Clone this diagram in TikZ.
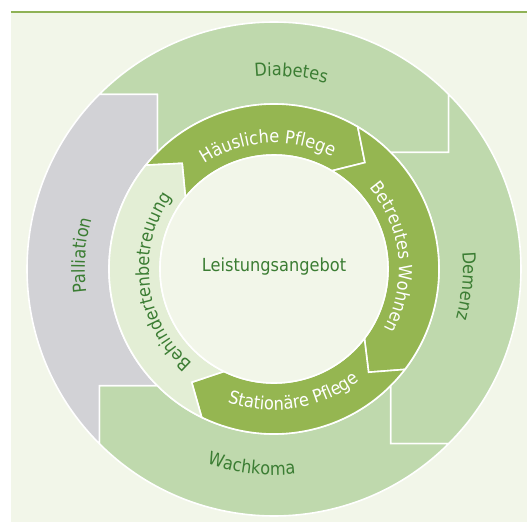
\documentclass[tikz,border=0pt]{standalone}
\usepackage{fontspec}
\setmainfont{DejaVu Sans}[FakeStretch=0.9]
\usetikzlibrary{decorations.text}

\definecolor{panel}{HTML}{F2F6E9}
\definecolor{topline}{HTML}{8FB255}
\definecolor{outerseg}{HTML}{BFD9AD}
\definecolor{grayseg}{HTML}{D2D2D6}
\definecolor{darkseg}{HTML}{95B651}
\definecolor{lightseg}{HTML}{E3EED5}
\definecolor{txtgreen}{HTML}{3B7D33}

\newcommand\lblfont{\fontsize{18}{20}\selectfont}

% text bent along a circle around the hub, read clockwise (tops outward)
\newcommand\cwtext[4]{%
  \path[decorate, decoration={text along path, text align=center,
      text={|\lblfont\color{#3}|#4}}]
    ({#1+75}:#2) arc[start angle={#1+75}, end angle={#1-75}, radius=#2];}
% text bent along a circle, read counter-clockwise (tops inward)
\newcommand\ccwtext[4]{%
  \path[decorate, decoration={text along path, text align=center,
      text={|\lblfont\color{#3}|#4}}]
    ({#1-75}:#2) arc[start angle={#1-75}, end angle={#1+75}, radius=#2];}

% one arrow of the inner ring: tail angle, head angle, fill
\newcommand\ringseg[3]{%
  \filldraw[seg, fill=#3]
    (#1:165) arc[start angle=#1, end angle=#2, radius=165]
    -- ({#2-10}:140) -- (#2:114)
    arc[start angle=#2, end angle=#1, radius=114]
    -- ({#1-10}:140) -- cycle;}

\begin{document}
\begin{tikzpicture}[x=1pt, y=1pt,
  seg/.style={draw=white, line width=1.6pt, line join=miter}]
  \useasboundingbox (-274,-253) rectangle (253,269);
  \fill[white] (-274,-253) rectangle (253,269);

  % background panel with its rule on top
  \fill[panel] (-263,-253) rectangle (253,256);
  \draw[topline, line width=2.6pt] (-263,257) -- (253,257);

  % corner points of the outer ring
  \coordinate (O1) at (45:247);
  \coordinate (O2) at (-45:247);
  \coordinate (O3) at (-135:247);
  \coordinate (O4) at (135:247);
  \coordinate (M1) at (45:165);
  \coordinate (M2) at (-45:165);
  \coordinate (M3) at (-135:165);
  \coordinate (M4) at (135:165);

  % outer ring: Diabetes, Demenz, Wachkoma, Palliation
  \filldraw[seg, fill=outerseg]
    (O4) arc[start angle=135, end angle=45, radius=247]
    -- (O1 |- M1) -- (M1) arc[start angle=45, end angle=135, radius=165]
    -- (M4 |- O4) -- cycle;
  \filldraw[seg, fill=outerseg]
    (O1) arc[start angle=45, end angle=-45, radius=247]
    -- (M2 |- O2) -- (M2) arc[start angle=-45, end angle=45, radius=165]
    -- (O1 |- M1) -- cycle;
  \filldraw[seg, fill=outerseg]
    (O2) arc[start angle=-45, end angle=-135, radius=247]
    -- (O3 |- M3) -- (M3) arc[start angle=-135, end angle=-45, radius=165]
    -- (M2 |- O2) -- cycle;
  \filldraw[seg, fill=grayseg]
    (M4) -- (M4 |- O4) -- (O4) arc[start angle=135, end angle=225, radius=247]
    -- (O3 |- M3) -- (M3) arc[start angle=225, end angle=135, radius=165]
    -- cycle;

  % inner ring of arrows
  \ringseg{141}{59.5}{darkseg}
  \ringseg{59.5}{-37.5}{darkseg}
  \ringseg{-37.5}{-116}{darkseg}
  \ringseg{244}{141}{lightseg}

  % hub
  \filldraw[seg, fill=panel] (0,0) circle[radius=114];
  \node[text=txtgreen, font=\lblfont] (hub) at (0,2) {Leistungsangebot};

  % labels of the inner ring
  \cwtext{93}{126}{white}{Häusliche Pflege}
  \cwtext{6}{125}{white}{Betreutes Wohnen}
  \ccwtext{-81}{141}{white}{Stationäre Pflege}
  \cwtext{187}{125}{txtgreen}{Behindertenbetreuung}

  % labels of the outer ring
  \cwtext{85}{193}{txtgreen}{Diabetes}
  \cwtext{-5}{189}{txtgreen}{Demenz}
  \cwtext{176}{189}{txtgreen}{Palliation}
  \ccwtext{-96.5}{206}{txtgreen}{Wachkoma}
\end{tikzpicture}
\end{document}
